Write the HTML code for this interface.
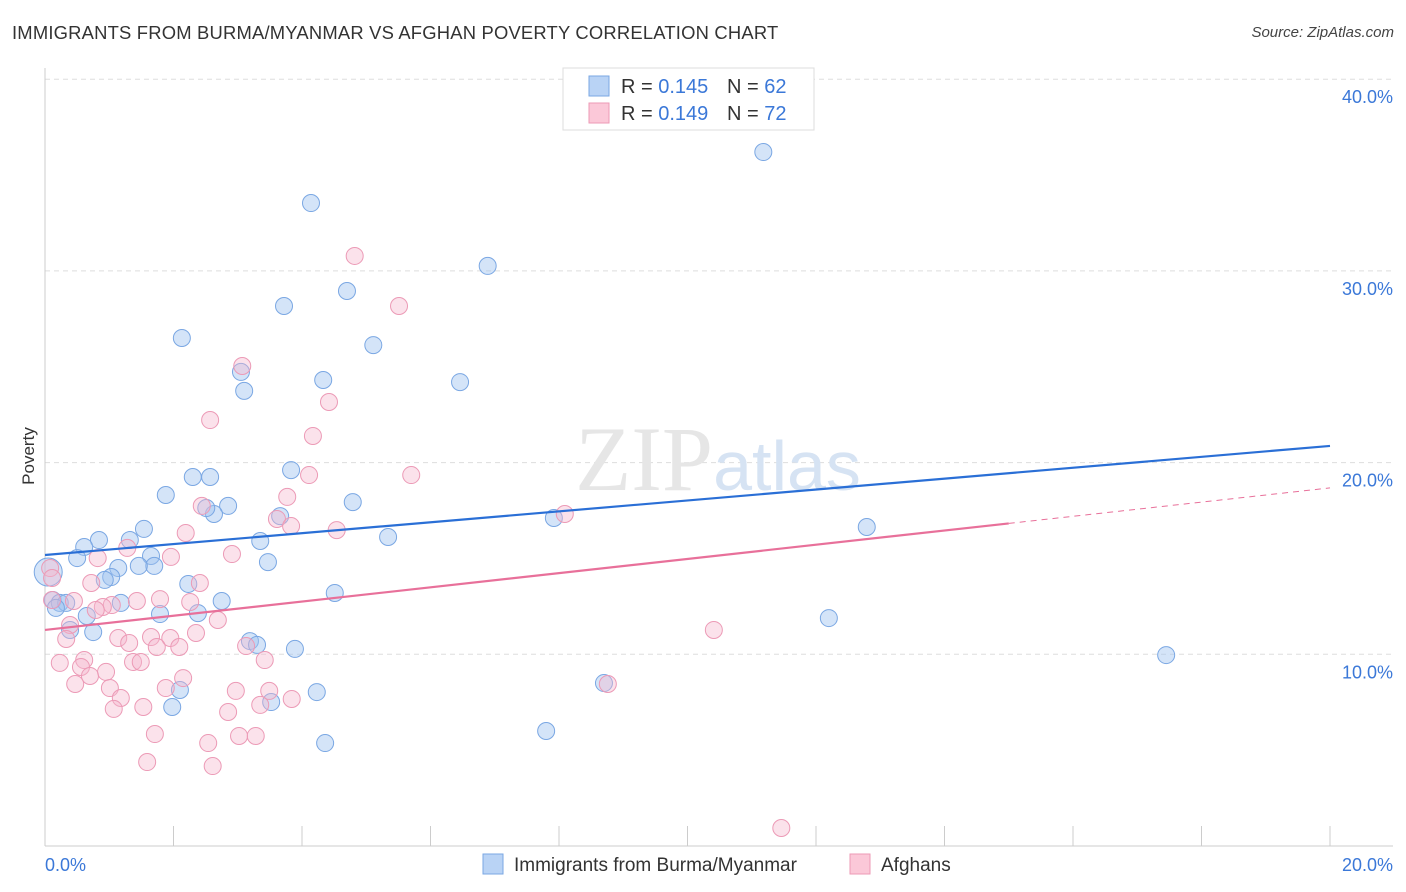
<!DOCTYPE html>
<html><head><meta charset="utf-8">
<style>
body{margin:0;background:#fff;font-family:"Liberation Sans",sans-serif;}
#wrap{position:relative;width:1406px;height:892px;overflow:hidden;}
</style></head>
<body>
<div id="wrap">
<div style="position:absolute;left:12px;top:22px;font-size:18.4px;color:#333;letter-spacing:0.2px">IMMIGRANTS FROM BURMA/MYANMAR VS AFGHAN POVERTY CORRELATION CHART</div>
<div style="position:absolute;right:12px;top:24px;font-size:15px;color:#444;font-style:italic">Source: ZipAtlas.com</div>
<svg id="svg" width="1406" height="892" style="position:absolute;left:0;top:0"></svg>
</div>
<script>
const yTicks=[10,20,30,40];
const yTickLabels=["10.0%","20.0%","30.0%","40.0%"];
const xTickCount=10;
const xEndLabels=["0.0%","20.0%"];
const blueX=[11.18,4.14,6.89,4.70,3.72,5.11,2.13,4.33,6.46,3.05,3.10,3.83,2.57,2.30,1.88,4.79,2.85,2.63,2.51,3.66,7.92,12.79,1.54,1.32,0.84,0.61,3.35,5.34,0.50,1.65,1.70,1.46,1.14,1.03,0.93,3.47,2.23,4.51,0.12,0.23,0.33,1.18,2.75,1.79,2.38,0.65,12.20,0.39,0.75,3.19,3.30,3.89,17.45,8.70,2.10,4.23,3.52,1.98,7.80,4.36,0.05,0.17];
const blueY=[36.2,33.54,30.26,28.95,28.17,26.13,26.50,24.31,24.20,24.73,23.74,19.61,19.25,19.25,18.31,17.94,17.74,17.32,17.63,17.21,17.11,16.64,16.54,15.96,15.96,15.60,15.91,16.12,15.02,15.13,14.61,14.61,14.50,14.03,13.88,14.81,13.67,13.20,12.83,12.68,12.68,12.68,12.78,12.10,12.15,12.00,11.89,11.27,11.16,10.69,10.49,10.28,9.96,8.50,8.14,8.03,7.51,7.25,6.00,5.37,14.29,12.42];
const pinkX=[4.82,5.51,3.07,4.42,2.57,4.17,5.70,4.11,3.77,2.44,8.09,3.61,3.83,4.54,2.19,1.28,0.82,2.91,1.96,0.08,0.11,0.72,2.41,1.04,0.45,0.90,1.43,1.79,2.26,0.79,2.69,0.39,2.35,0.33,1.14,1.65,1.95,1.31,1.74,2.09,3.13,10.41,3.42,0.23,0.61,0.56,0.95,0.70,1.37,1.49,0.47,1.01,1.88,2.15,2.97,3.49,1.18,3.84,3.35,1.07,1.53,2.85,1.71,3.02,3.28,2.54,1.59,2.61,8.76,11.46,0.11];
const pinkY=[30.78,28.17,25.04,23.16,22.22,21.39,19.35,19.35,18.21,17.74,17.32,17.06,16.69,16.48,16.33,15.55,15.02,15.23,15.08,14.50,13.98,13.72,13.72,12.57,12.78,12.47,12.78,12.88,12.73,12.31,11.79,11.53,11.11,10.80,10.85,10.90,10.85,10.59,10.38,10.38,10.43,11.27,9.70,9.55,9.70,9.34,9.08,8.87,9.60,9.60,8.45,8.24,8.24,8.76,8.09,8.09,7.72,7.67,7.36,7.15,7.25,6.99,5.84,5.74,5.74,5.37,4.38,4.17,8.45,0.94,12.83];
const blueTrend=[15.18,20.87];
const pinkTrend=[11.27,18.68];
const pinkSolidEnd=15.0;

const svg=document.getElementById('svg');
const NS='http://www.w3.org/2000/svg';
const X=v=>45+v*64.25, Y=v=>846-v*19.17;
function mk(tag,attrs,parent){const e=document.createElementNS(NS,tag);for(const k in attrs)e.setAttribute(k,attrs[k]);(parent||svg).appendChild(e);return e;}

yTicks.forEach((t,i)=>{
 const g=mk('line',{x1:45,x2:1393,y1:Y(t),y2:Y(t),stroke:'#ddd','stroke-dasharray':'5,4'});
 
 
 const tx=mk('text',{x:1393,y:Y(t)+24,'text-anchor':'end','font-size':18,fill:'#3b78d8','font-family':'Liberation Sans'});
 tx.textContent=yTickLabels[i];
 
 
});
let ax=mk('line',{x1:45,x2:45,y1:68,y2:846,stroke:'#ccc'});


ax=mk('line',{x1:45,x2:1393,y1:846,y2:846,stroke:'#ccc'});


for(let i=1;i<=xTickCount;i++){
 const v=i*20/xTickCount;
 const t=mk('line',{x1:X(v),x2:X(v),y1:826,y2:846,stroke:'#ccc'});
 
 
}
[[0,'start'],[20,'end']].forEach((p,i)=>{
 const tx=mk('text',{x:i?1393:45,y:871,'text-anchor':p[1],'font-size':18,fill:'#3b78d8','font-family':'Liberation Sans'});
 tx.textContent=xEndLabels[i];
 
 
});
const yt=mk('text',{x:0,y:0,transform:'translate(34,456) rotate(-90)','text-anchor':'middle','font-size':17,fill:'#333','font-family':'Liberation Sans'});
yt.textContent='Poverty';


const wm=mk('text',{x:718,y:490,'text-anchor':'middle','font-size':92,fill:'#e6e6e6','font-family':'Liberation Serif'});
wm.innerHTML='ZIP<tspan font-family="Liberation Sans" font-size="70" fill="#d6e3f3">atlas</tspan>';



blueX.forEach((x,i)=>{
 const c=mk('circle',{cx:X(x),cy:Y(blueY[i]),r:i===60?14:8.5,fill:'rgba(160,196,240,0.45)',stroke:'#7aa7e3','stroke-width':1});
 
 
});
pinkX.forEach((x,i)=>{
 const c=mk('circle',{cx:X(x),cy:Y(pinkY[i]),r:8.5,fill:'rgba(245,182,204,0.4)',stroke:'#ec9ab6','stroke-width':1});
 
 
});
const pAt=v=>pinkTrend[0]+(pinkTrend[1]-pinkTrend[0])*v/20;
let l=mk('line',{x1:X(0),y1:Y(blueTrend[0]),x2:X(20),y2:Y(blueTrend[1]),stroke:'#2a6fd6','stroke-width':2.2});


l=mk('line',{x1:X(0),y1:Y(pinkTrend[0]),x2:X(pinkSolidEnd),y2:Y(pAt(pinkSolidEnd)),stroke:'#e8709a','stroke-width':2.2});


l=mk('line',{x1:X(pinkSolidEnd),y1:Y(pAt(pinkSolidEnd)),x2:X(20),y2:Y(pinkTrend[1]),stroke:'#e8709a','stroke-width':1,'stroke-dasharray':'6,5'});



const lg=mk('g',{});


mk('rect',{x:563,y:68,width:251,height:62,fill:'#fff',stroke:'#ddd'},lg);
[['#b9d3f5','#7aa7e3','0.145','62',86],['#fbc8d8','#ec9ab6','0.149','72',113]].forEach(r=>{
 mk('rect',{x:589,y:r[4]-10,width:20,height:20,fill:r[0],stroke:r[1]},lg);
 const t=mk('text',{x:621,y:r[4]+7,'font-size':20,fill:'#333','font-family':'Liberation Sans'},lg);
 t.innerHTML='R = <tspan fill="#3b78d8">'+r[2]+'</tspan><tspan x="727">N = </tspan><tspan fill="#3b78d8">'+r[3]+'</tspan>';
});
[['#b9d3f5','#7aa7e3','Immigrants from Burma/Myanmar',483],['#fbc8d8','#ec9ab6','Afghans',850]].forEach(r=>{
 const g=mk('g',{});
 
 
 mk('rect',{x:r[3],y:854,width:20,height:20,fill:r[0],stroke:r[1]},g);
 const t=mk('text',{x:r[3]+31,y:871,'font-size':19,fill:'#333','font-family':'Liberation Sans'},g);
 t.textContent=r[2];
});
</script>
</body></html>
